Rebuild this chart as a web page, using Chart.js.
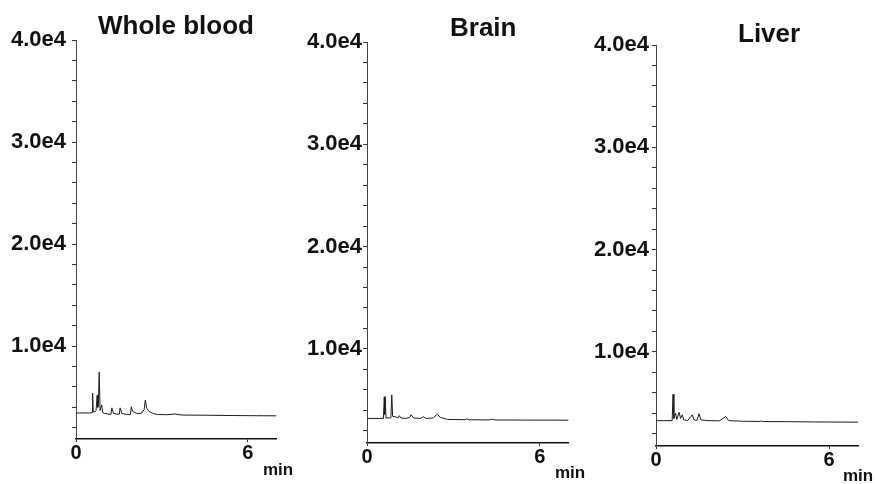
<!DOCTYPE html>
<html>
<head>
<meta charset="utf-8">
<title>Chromatograms</title>
<script src="https://cdn.jsdelivr.net/npm/chart.js@4.4.1/dist/chart.umd.min.js"></script>
<style>
    html, body { margin: 0; padding: 0; background: #fff; }
    #wrap {
        position: relative; width: 875px; height: 484px; overflow: hidden;
        font-family: "Liberation Sans", Arial, sans-serif; color: #111;
    }
    #wrap canvas { position: absolute; left: 0; top: 0; }
    .title { position: absolute; font-weight: bold; font-size: 26px; line-height: 26px; white-space: nowrap; }
    .unit  { position: absolute; font-weight: bold; font-size: 17px; line-height: 17px; white-space: nowrap; }
</style>
</head>
<body>
<div id="wrap">
    <canvas id="c0" width="875" height="484"></canvas>
    <canvas id="c1" width="875" height="484"></canvas>
    <canvas id="c2" width="875" height="484"></canvas>
</div>
<script>
/* ============================
   CHROMATOGRAMS (3 PANELS)
============================ */

// ---------- DATA ----------
const panelTitles = ["Whole blood", "Brain", "Liver"];
const unitLabel = "min";
const timeTicks = [0, 6];                       // labelled retention times
const signalTicks = [2000, 4000, 6000, 8000, 10000, 12000, 14000, 16000, 18000, 20000,
                     22000, 24000, 26000, 28000, 30000, 32000, 34000, 36000, 38000, 40000];

// whole blood trace (time in min, abundance)
const bloodTime   = [0, 0.50, 0.56, 0.58, 0.60, 0.66, 0.70, 0.74, 0.76, 0.78, 0.81, 0.84, 0.90, 0.93,
                     1.00, 1.05, 1.10, 1.22, 1.25, 1.31, 1.40, 1.51, 1.54, 1.60, 1.75, 1.90,
                     1.93, 1.98, 2.05, 2.15, 2.30, 2.38, 2.42, 2.47, 2.55, 2.70, 2.85, 3.20,
                     3.45, 3.70, 4.50, 5.50, 6.30, 7.00];
const bloodSignal = [3450, 3450, 3500, 5400, 3600, 3550, 3700, 5200, 4000, 4300, 7450, 3700, 4250, 3500,
                     3400, 3400, 3350, 3300, 3950, 3400, 3350, 3320, 3950, 3400, 3320, 3300,
                     4050, 3600, 3500, 3380, 3450, 3800, 4700, 3900, 3600, 3400, 3300, 3280,
                     3350, 3250, 3230, 3200, 3180, 3170];

// brain trace
const brainTime   = [0, 0.57, 0.60, 0.615, 0.63, 0.66, 0.80, 0.83, 0.86, 0.89, 1.00, 1.08, 1.12,
                     1.18, 1.35, 1.48, 1.53, 1.62, 1.85, 1.96, 2.05, 2.30, 2.44, 2.55, 2.80,
                     3.40, 3.46, 3.55, 4.25, 4.33, 4.45, 5.50, 7.00];
const brainSignal = [3200, 3200, 5300, 3600, 5350, 3250, 3250, 3300, 5500, 3400, 3350, 3250, 3470,
                     3250, 3200, 3300, 3570, 3250, 3200, 3370, 3200, 3250, 3600, 3300, 3100,
                     3080, 3150, 3070, 3060, 3120, 3050, 3040, 3030];

// liver trace
const liverTime   = [0, 0.56, 0.59, 0.62, 0.68, 0.72, 0.80, 0.85, 0.91, 0.96, 1.10, 1.26, 1.32,
                     1.42, 1.49, 1.56, 1.80, 2.20, 2.42, 2.52, 3.00, 3.60, 3.65, 3.70, 4.50,
                     5.50, 6.40, 7.00];
const liverSignal = [3280, 3280, 5850, 3500, 4000, 3400, 4100, 3500, 3850, 3350, 3300, 3850, 3350,
                     3300, 3950, 3350, 3280, 3260, 3680, 3280, 3220, 3200, 3250, 3190, 3180,
                     3150, 3140, 3130];

// ---------- LAYOUT (plot box of each panel, in page pixels) ----------
const boxes = [
    { left: 76,  right: 276.5, top: 40, bottom: 439, yMin: 900, labelPad: 6 },
    { left: 367, right: 568.6, top: 42, bottom: 443, yMin: 800, labelPad: 1 },
    { left: 656, right: 858,   top: 45, bottom: 446, yMin: 800, labelPad: 3 }
];
const titlePos = [{ x: 98, y: 12 }, { x: 450, y: 14 }, { x: 738, y: 20 }];
const unitPos  = [{ x: 263, y: 461 }, { x: 555, y: 464 }, { x: 843, y: 467 }];

const Y_AXIS_W = 70;
const X_AXIS_H = 30;
const FONT = "'Liberation Sans', Arial, sans-serif";

// ---------- ONE PANEL ----------
function makePanel(i, times, signal) {
    const b = boxes[i];
    return new Chart(document.getElementById("c" + i), {
        type: "line",
        data: {
            datasets: [{
                data: times.map((t, k) => ({ x: t, y: signal[k] })),
                borderColor: "#1c1c1c",
                borderWidth: 1,
                pointRadius: 0,
                tension: 0,
                fill: false
            }]
        },
        options: {
            responsive: false,
            animation: false,
            events: [],
            layout: {
                padding: {
                    left: b.left - Y_AXIS_W,
                    right: 875 - b.right,
                    top: b.top,
                    bottom: 484 - b.bottom - X_AXIS_H
                }
            },
            plugins: { legend: { display: false }, tooltip: { enabled: false } },
            scales: {
                x: {
                    type: "linear",
                    min: 0,
                    max: 7,
                    afterFit: s => { s.height = X_AXIS_H; },
                    afterBuildTicks: s => { s.ticks = timeTicks.map(v => ({ value: v })); },
                    ticks: {
                        autoSkip: false,
                        maxRotation: 0,
                        padding: -1,
                        color: "#111",
                        font: { family: FONT, weight: "bold", size: 20 }
                    },
                    grid: { drawOnChartArea: false, drawTicks: true, tickLength: 3, color: "#333" },
                    border: { display: true, color: "#111", width: 1.5 }
                },
                y: {
                    type: "linear",
                    min: b.yMin,
                    max: 40000,
                    afterFit: s => { s.width = Y_AXIS_W; },
                    afterBuildTicks: s => { s.ticks = signalTicks.map(v => ({ value: v })); },
                    ticks: {
                        autoSkip: false,
                        padding: b.labelPad,
                        color: "#111",
                        font: { family: FONT, weight: "bold", size: 22 },
                        callback: v => (v % 10000 === 0 ? (v / 10000).toFixed(1) + "e4" : "")
                    },
                    grid: { drawOnChartArea: false, drawTicks: true, tickLength: 4, color: "#333" },
                    border: { display: true, color: "#444", width: 1 }
                }
            }
        }
    });
}

// ---------- TEXT OVERLAYS ----------
function addText(cls, text, pos) {
    const d = document.createElement("div");
    d.className = cls;
    d.textContent = text;
    d.style.left = pos.x + "px";
    d.style.top = pos.y + "px";
    document.getElementById("wrap").appendChild(d);
}

// ---------- MAIN INIT ----------
makePanel(0, bloodTime, bloodSignal);
makePanel(1, brainTime, brainSignal);
makePanel(2, liverTime, liverSignal);

panelTitles.forEach((t, i) => addText("title", t, titlePos[i]));
unitPos.forEach(p => addText("unit", unitLabel, p));
</script>
</body>
</html>
